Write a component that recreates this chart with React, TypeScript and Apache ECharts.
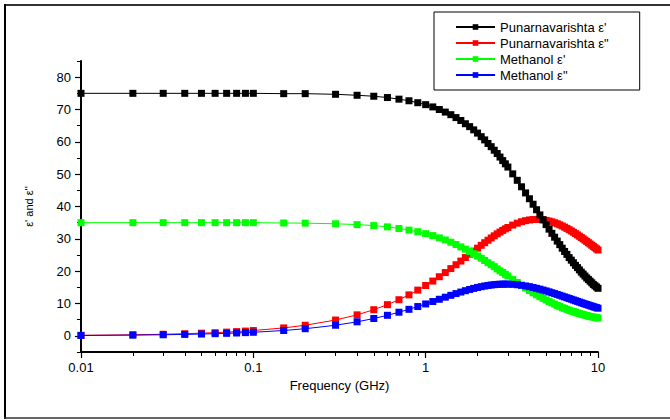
import React, { useEffect, useRef } from "react";
import * as echarts from "echarts";

const freq = [
  0.01, 0.02, 0.03, 0.04, 0.05, 0.06, 0.07, 0.08, 0.09, 0.1, 0.15, 0.2,
  0.3, 0.4, 0.5, 0.6, 0.7, 0.8, 0.9, 1.0, 1.1, 1.2, 1.3, 1.4, 1.5, 1.6, 1.7, 1.8, 1.9, 2.0,
  2.1, 2.2, 2.3, 2.4, 2.5, 2.6, 2.7, 2.8, 2.9, 3.0,
  3.2, 3.4, 3.6, 3.8, 4.0, 4.2, 4.4, 4.6, 4.8, 5.0, 5.2, 5.4, 5.6, 5.8, 6.0,
  6.2, 6.4, 6.6, 6.8, 7.0, 7.2, 7.4, 7.6, 7.8, 8.0, 8.2, 8.4, 8.6, 8.8, 9.0,
  9.2, 9.4, 9.6, 9.8, 10,
];

const punRe = [
  75.0, 75.0, 75.0, 75.0, 75.0, 75.0, 75.0, 75.0, 75.0, 75.0, 74.9, 74.9,
  74.7, 74.4, 74.1, 73.7, 73.2, 72.7, 72.1, 71.5, 70.8, 70.0, 69.2, 68.4, 67.5, 66.6, 65.6, 64.7, 63.7, 62.7,
  61.6, 60.6, 59.5, 58.5, 57.4, 56.4, 55.3, 54.2, 53.2, 52.2,
  50.1, 48.1, 46.1, 44.2, 42.4, 40.7, 39.0, 37.4, 35.9, 34.4, 33.0, 31.7, 30.5, 29.3, 28.2,
  27.1, 26.1, 25.2, 24.2, 23.4, 22.6, 21.8, 21.1, 20.4, 19.7, 19.1, 18.5, 17.9, 17.4, 16.9,
  16.4, 15.9, 15.5, 15.1, 14.7,
];

const punIm = [
  0.16, 0.33, 0.49, 0.65, 0.82, 0.98, 1.15, 1.31, 1.47, 1.64, 2.45, 3.27,
  4.89, 6.49, 8.08, 9.64, 11.17, 12.67, 14.14, 15.56, 16.94, 18.28, 19.57, 20.8, 21.99, 23.12, 24.21, 25.23, 26.21, 27.12,
  27.99, 28.8, 29.56, 30.27, 30.93, 31.54, 32.1, 32.61, 33.08, 33.51,
  34.25, 34.84, 35.29, 35.62, 35.84, 35.96, 36.0, 35.97, 35.86, 35.71, 35.5, 35.26, 34.98, 34.67, 34.34,
  33.98, 33.61, 33.23, 32.84, 32.44, 32.04, 31.63, 31.22, 30.81, 30.4, 30.0, 29.59, 29.2, 28.8, 28.41,
  28.03, 27.65, 27.27, 26.9, 26.54,
];

const metRe = [
  35.0, 35.0, 35.0, 35.0, 35.0, 35.0, 35.0, 35.0, 35.0, 35.0, 34.9, 34.85,
  34.66, 34.4, 34.1, 33.7, 33.2, 32.7, 32.2, 31.6, 31.0, 30.3, 29.65, 28.95, 28.25, 27.5, 26.8, 26.1, 25.4, 24.7,
  24.0, 23.3, 22.6, 22.0, 21.4, 20.7, 20.1, 19.6, 19.0, 18.5,
  17.4, 16.5, 15.6, 14.8, 14.0, 13.3, 12.7, 12.1, 11.6, 11.1, 10.6, 10.2, 9.8, 9.4, 9.1,
  8.7, 8.5, 8.2, 7.9, 7.7, 7.5, 7.3, 7.1, 6.9, 6.7, 6.6, 6.4, 6.3, 6.1, 6.0,
  5.9, 5.8, 5.7, 5.6, 5.5,
];

const metIm = [
  0.11, 0.22, 0.33, 0.44, 0.55, 0.66, 0.77, 0.88, 0.99, 1.1, 1.65, 2.2,
  3.28, 4.33, 5.36, 6.35, 7.3, 8.2, 9.06, 9.86, 10.61, 11.31, 11.95, 12.53, 13.06, 13.54, 13.96, 14.34, 14.67, 14.96,
  15.2, 15.41, 15.58, 15.72, 15.83, 15.91, 15.96, 15.99, 16.0, 15.99,
  15.92, 15.8, 15.63, 15.43, 15.21, 14.96, 14.7, 14.44, 14.16, 13.89, 13.61, 13.34, 13.07, 12.8, 12.54,
  12.28, 12.03, 11.79, 11.55, 11.32, 11.09, 10.87, 10.66, 10.45, 10.25, 10.06, 9.87, 9.69, 9.51, 9.34,
  9.18, 9.01, 8.86, 8.71, 8.56,
];

const seriesNames = [
  "Punarnavarishta \u03b5'",
  'Punarnavarishta \u03b5"',
  "Methanol \u03b5'",
  'Methanol \u03b5"',
];
const seriesColors = ["#000000", "#ff0000", "#00ff00", "#0000ff"];

const X_MIN = 0.01;
const X_MAX = 10;
const Y_MIN = -5;
const Y_MAX = 85;
const yMajorTicks = [0, 10, 20, 30, 40, 50, 60, 70, 80];
const yMinorTicks = [-5, 5, 15, 25, 35, 45, 55, 65, 75, 85];
const xMinorTickFreqs = [
  0.02, 0.03, 0.04, 0.05, 0.06, 0.07, 0.08, 0.09,
  0.2, 0.3, 0.4, 0.5, 0.6, 0.7, 0.8, 0.9,
  2, 3, 4, 5, 6, 7, 8, 9,
];

const FONT = "'Liberation Sans', Arial, sans-serif";
const AXIS_COLOR = "#000000";

export default function App() {
  const ref = useRef<HTMLDivElement>(null);

  useEffect(() => {
    if (!ref.current) return;
    const chart = echarts.init(ref.current, undefined, { renderer: "svg" });
    const allData = [punRe, punIm, metRe, metIm];

    const option: any = {
      animation: false,
      backgroundColor: "#ffffff",
      textStyle: { fontFamily: FONT },
      grid: { left: 81, right: 72, top: 61, bottom: 68 },
      legend: {
        left: 434,
        top: 12,
        orient: "vertical",
        data: seriesNames,
        itemWidth: 39,
        itemHeight: 7,
        itemGap: 2,
        padding: [8, 31, 8, 21],
        borderColor: "#000",
        borderWidth: 1,
        backgroundColor: "#fff",
        textStyle: { fontFamily: FONT, fontSize: 13, color: "#000", lineHeight: 14 },
      },
      xAxis: [
        {
          type: "log",
          logBase: 10,
          min: X_MIN,
          max: X_MAX,
          name: "Frequency (GHz)",
          nameLocation: "middle",
          nameGap: 27,
          nameTextStyle: { fontFamily: FONT, fontSize: 13, color: "#000" },
          axisLine: { show: true, onZero: false, lineStyle: { color: AXIS_COLOR, width: 2 } },
          axisTick: { show: true, length: 6, inside: false, lineStyle: { color: AXIS_COLOR, width: 1.2 } },
          axisLabel: {
            fontFamily: FONT,
            fontSize: 13,
            color: "#000",
            margin: 9,
            formatter: (v: number) => String(v),
          },
          splitLine: { show: false },
          minorTick: { show: false },
        },
        {
          type: "value",
          min: -2,
          max: 1,
          position: "bottom",
          axisLine: { show: false, onZero: false },
          axisLabel: { show: false },
          splitLine: { show: false },
          axisTick: {
            show: true,
            length: 4,
            customValues: xMinorTickFreqs.map((f) => Math.log10(f)),
            lineStyle: { color: AXIS_COLOR, width: 1 },
          },
        },
      ],
      yAxis: [
        {
          type: "value",
          min: Y_MIN,
          max: Y_MAX,
          interval: 5,
          name: "\u03b5' and \u03b5''",
          nameLocation: "middle",
          nameRotate: 90,
          nameGap: 47,
          nameTextStyle: { fontFamily: FONT, fontSize: 11, color: "#000" },
          axisLine: { show: true, onZero: false, lineStyle: { color: AXIS_COLOR, width: 2 } },
          axisTick: {
            show: true,
            length: 6,
            customValues: yMajorTicks,
            lineStyle: { color: AXIS_COLOR, width: 1.2 },
          },
          axisLabel: {
            fontFamily: FONT,
            fontSize: 13,
            color: "#000",
            margin: 10,
            customValues: yMajorTicks,
          },
          splitLine: { show: false },
        },
        {
          type: "value",
          min: Y_MIN,
          max: Y_MAX,
          interval: 5,
          position: "left",
          axisLine: { show: false, onZero: false },
          axisLabel: { show: false },
          splitLine: { show: false },
          axisTick: {
            show: true,
            length: 4,
            customValues: yMinorTicks,
            lineStyle: { color: AXIS_COLOR, width: 1 },
          },
        },
      ],
      series: seriesNames.map((name, i) => ({
        name,
        type: "line",
        xAxisIndex: 0,
        yAxisIndex: 0,
        data: freq.map((f, k) => [f, allData[i][k]]),
        symbol: "rect",
        symbolSize: 7,
        showAllSymbol: true,
        clip: false,
        z: i === 0 ? 5 : 2 + i * 0.1,
        itemStyle: { color: seriesColors[i] },
        lineStyle: { color: seriesColors[i], width: 1 },
        emphasis: { disabled: true },
        markLine:
          i === 0
            ? {
                silent: true,
                symbol: "none",
                label: { show: false },
                lineStyle: { color: AXIS_COLOR, width: 2, type: "solid" },
                z: 1,
                data: [{ xAxis: X_MIN }, { yAxis: Y_MIN }],
              }
            : undefined,
      })),
      graphic: [
        { type: "line", shape: { x1: 4, y1: 5, x2: 670, y2: 5 }, style: { stroke: "#333", lineWidth: 2 } },
        { type: "line", shape: { x1: 5, y1: 4, x2: 5, y2: 419 }, style: { stroke: "#000", lineWidth: 2 } },
        { type: "line", shape: { x1: 4, y1: 418, x2: 670, y2: 418 }, style: { stroke: "#333", lineWidth: 1.5 } },
      ],
    };

    chart.setOption(option);
    return () => chart.dispose();
  }, []);

  return (
    <div
      ref={ref}
      style={{ position: "fixed", left: 0, top: 0, width: 670, height: 420 }}
    />
  );
}
